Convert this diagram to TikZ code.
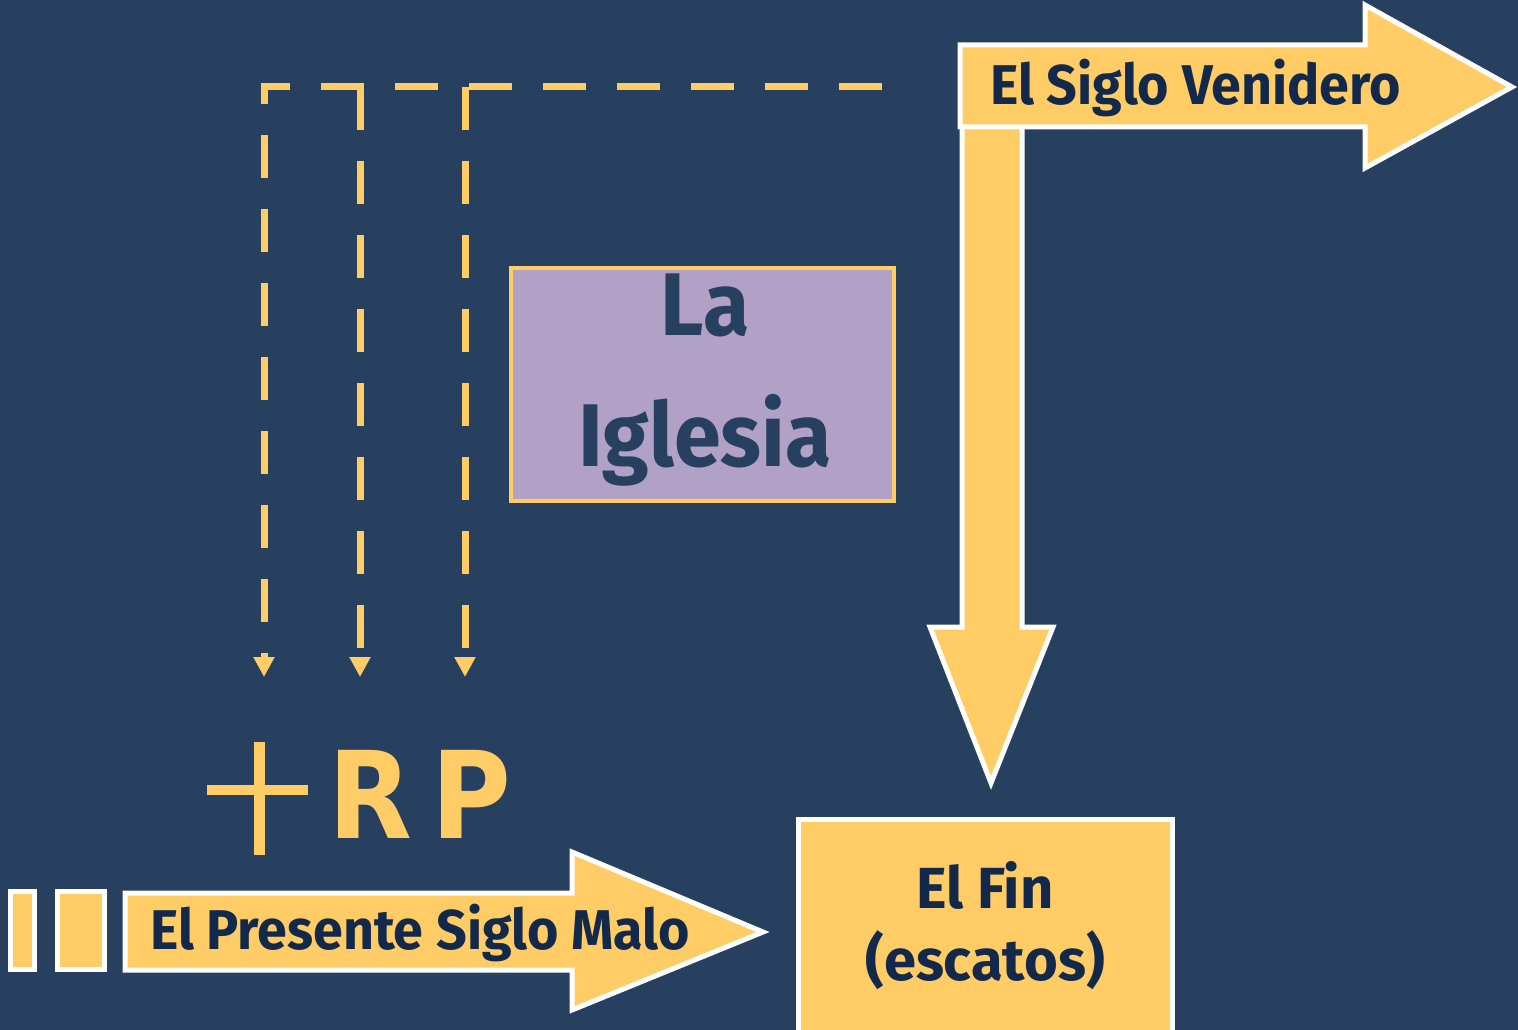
\documentclass[tikz,border=0pt]{standalone}
\usepackage{fontspec}
\setmainfont{Fira Sans}
\newfontfamily\rpfont{DejaVu Sans}
\usetikzlibrary{arrows.meta,positioning,calc}
\definecolor{bgblue}{HTML}{27405F}
\definecolor{gold}{HTML}{FFCC66}
\definecolor{lilac}{HTML}{B1A1C6}
\definecolor{ink}{HTML}{13294B}
\tikzset{
  bigarrow/.style={draw=white, line width=5pt, fill=gold, line join=miter},
  dashline/.style={draw=gold, line width=7pt, dash pattern=on 43pt off 31pt,
    -{Triangle[width=20pt,length=20pt]}},
  label/.style={text=ink, font=\fontsize{56}{72}\selectfont\bfseries, inner sep=0pt, xscale=0.96},
  rpletter/.style={anchor=base, text=gold, inner sep=0pt, xscale=0.9,
    font=\rpfont\fontsize{121}{121}\selectfont\bfseries},
}

\begin{document}
\begin{tikzpicture}[x=1pt,y=-1pt]
    % Background
    \clip (0,0) rectangle (1518,1030);
    \fill[bgblue] (0,0) rectangle (1518,1030);

    % Down arrow to the end
    \draw[bigarrow] (962,118) -- (1022,118) -- (1022,627) -- (1053,627) -- (991,783) -- (930,627) -- (962,627) -- cycle;

    % Age to come
    \draw[bigarrow] (960,45) -- (1365,45) -- (1365,5) -- (1512,87) -- (1365,168) -- (1365,127) -- (960,127) -- cycle;
    \node[label, anchor=west] (venidero) at (990,88) {El Siglo Venidero};

    % Present evil age
    \foreach \xa/\xb in {10/34, 57/104} {
        \draw[bigarrow] (\xa,891) rectangle (\xb,969);
    }
    \draw[bigarrow] (125,893) -- (572,893) -- (572,852) -- (763,932) -- (572,1010) -- (572,970) -- (125,970) -- cycle;
    \node[label, anchor=west] (presente) at (150,933) {El Presente Siglo Malo};

    % The end
    \draw[bigarrow] (798,819) rectangle (1172,1040);
    \node[label, align=center, xscale=1.04, font=\fontsize{58}{72}\selectfont\bfseries] (fin) at (985,926) {El Fin\\(escatos)};

    % The church
    \draw[draw=gold, line width=4pt, fill=lilac] (511,268) rectangle (894,501);
    \node[inner sep=0pt, align=center, text=bgblue, xscale=0.95, font=\fontsize{89}{131}\selectfont\bfseries] (iglesia) at (705,380) {La\\Iglesia};

    % Cross, R and P
    \draw[gold, line width=11pt] (259,742) -- (259,855);
    \draw[gold, line width=10pt] (207,790) -- (308,790);
    \node[rpletter] (R) at (370,838) {R};
    \node[rpletter] (P) at (471,838) {P};

    % Dashed lines
    \coordinate (start) at (882,87);
    \coordinate (d1) at (264,677);
    \coordinate (d2) at (360,677);
    \coordinate (d3) at (465,677);
    \draw[dashline] (start) -- (d1 |- start) -- (d1);
    \draw[dashline] (d2 |- start) -- (d2);
    \draw[dashline] (d3 |- start) -- (d3);

\end{tikzpicture}
\end{document}
